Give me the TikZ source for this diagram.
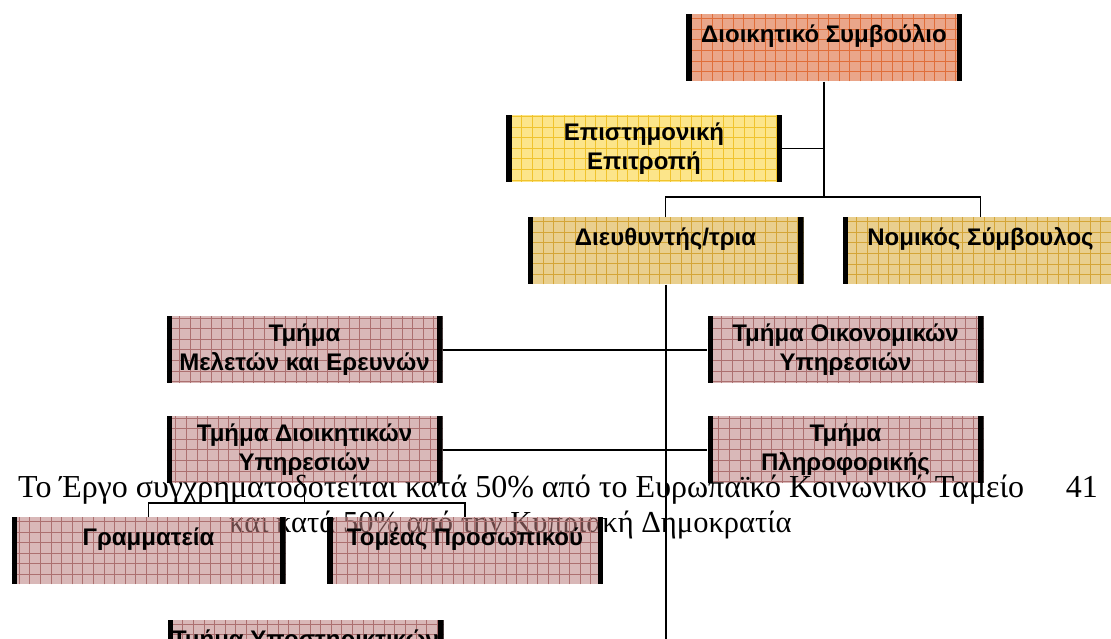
\documentclass[tikz,border=0pt]{standalone}
\usepackage{fontspec}
\setmainfont{Liberation Serif}
\newfontfamily\boxfont{Liberation Sans}
\definecolor{salF}{RGB}{234,166,138}
\definecolor{salG}{RGB}{224,110,58}
\definecolor{yelF}{RGB}{252,229,138}
\definecolor{yelG}{RGB}{240,195,45}
\definecolor{tanF}{RGB}{233,207,142}
\definecolor{tanG}{RGB}{212,165,55}
\definecolor{rosF}{RGB}{217,184,184}
\definecolor{rosT}{RGB}{186,126,126}
\definecolor{rosG}{RGB}{172,112,112}
\tikzset{
  orgbox/.style 2 args={minimum width=276pt, minimum height=67pt, inner sep=0pt,
    fill=#1, align=center, font=\boxfont\bfseries\fontsize{24}{29}\selectfont,
    path picture={
      \draw[#2, line width=0.6pt, step=10.6pt]
        (path picture bounding box.south west) grid (path picture bounding box.north east);
      \fill[black, fill opacity=1] (path picture bounding box.south west)
        rectangle ([xshift=5.5pt]path picture bounding box.north west);
      \fill[black, fill opacity=1] ([xshift=-5.5pt]path picture bounding box.south east)
        rectangle (path picture bounding box.north east);
    }},
  seethru/.style={fill=rosT, fill opacity=0.55, text opacity=1},
  conn/.style={draw=black, line width=1.4pt},
  foot/.style={font=\fontsize{32}{34}\selectfont, inner sep=0pt},
  foottwo/.style={font=\fontsize{30.5}{34}\selectfont, inner sep=0pt}
}
\begin{document}
\begin{tikzpicture}[x=1pt,y=1pt]
\useasboundingbox (0,0) rectangle (1111,639);
% footer line under the lower boxes
\node[foottwo, anchor=base west] (f2) at (229,106) {και κατά 50\% από την Κυπριακή Δημοκρατία};
% boxes
\node[orgbox={salF}{salG}] (dsb) at (824,591) {Διοικητικό Συμβούλιο\\\mbox{}};
\node[orgbox={yelF}{yelG}] (epi) at (644,490.5) {Επιστημονική\\Επιτροπή};
\node[orgbox={tanF}{tanG}] (dir) at (665.5,388) {Διευθυντής/τρια\\\mbox{}};
\node[orgbox={tanF}{tanG}] (nom) at (980.5,388) {Νομικός Σύμβουλος\\\mbox{}};
\node[orgbox={rosF}{rosG}] (mel) at (304.5,289) {Τμήμα\\Μελετών και Ερευνών};
\node[orgbox={rosF}{rosG}] (oik) at (845.5,289) {Τμήμα Οικονομικών\\Υπηρεσιών};
\node[orgbox={rosF}{rosG}] (dio) at (304.5,189) {Τμήμα Διοικητικών\\Υπηρεσιών};
\node[orgbox={rosF}{rosG}] (pli) at (845.5,189) {Τμήμα\\Πληροφορικής};
\node[orgbox={rosF}{rosG}, seethru, minimum width=274pt] (gram) at (148.5,88) {Γραμματεία\\\mbox{}};
\node[orgbox={rosF}{rosG}, seethru] (tom) at (465,88) {Τομέας Προσωπικού\\\mbox{}};
\node[orgbox={rosF}{rosG}] (ypo) at (305.5,-14.5) {Τμήμα Υποστηρικτικών\\\mbox{}};
% connector helpers
\coordinate (bus) at (824,442);
\coordinate (brk) at (304.5,136);
\coordinate (end) at (666,0);
% connectors
\draw[conn] (dsb.south) -- (bus);
\draw[conn] (epi.east) -- (epi.east -| dsb.south);
\draw[conn] (dir.north) |- (bus) -| (nom.north);
\draw[conn] (dir.south -| end) -- (end);
\draw[conn] (mel.east) -- (oik.west);
\draw[conn] (dio.east) -- (pli.west);
\draw[conn] (dio.south) -- (brk);
\draw[conn] (gram.north) |- (brk) -| (tom.north);
% footer first line
\node[foot, anchor=base west] (f1) at (18,141) {Το Έργο συγχρηματοδοτείται κατά 50\% από το Ευρωπαϊκό Κοινωνικό Ταμείο};
\node[foot, anchor=base east] (pg) at (1098,141) {41};
\end{tikzpicture}
\end{document}
